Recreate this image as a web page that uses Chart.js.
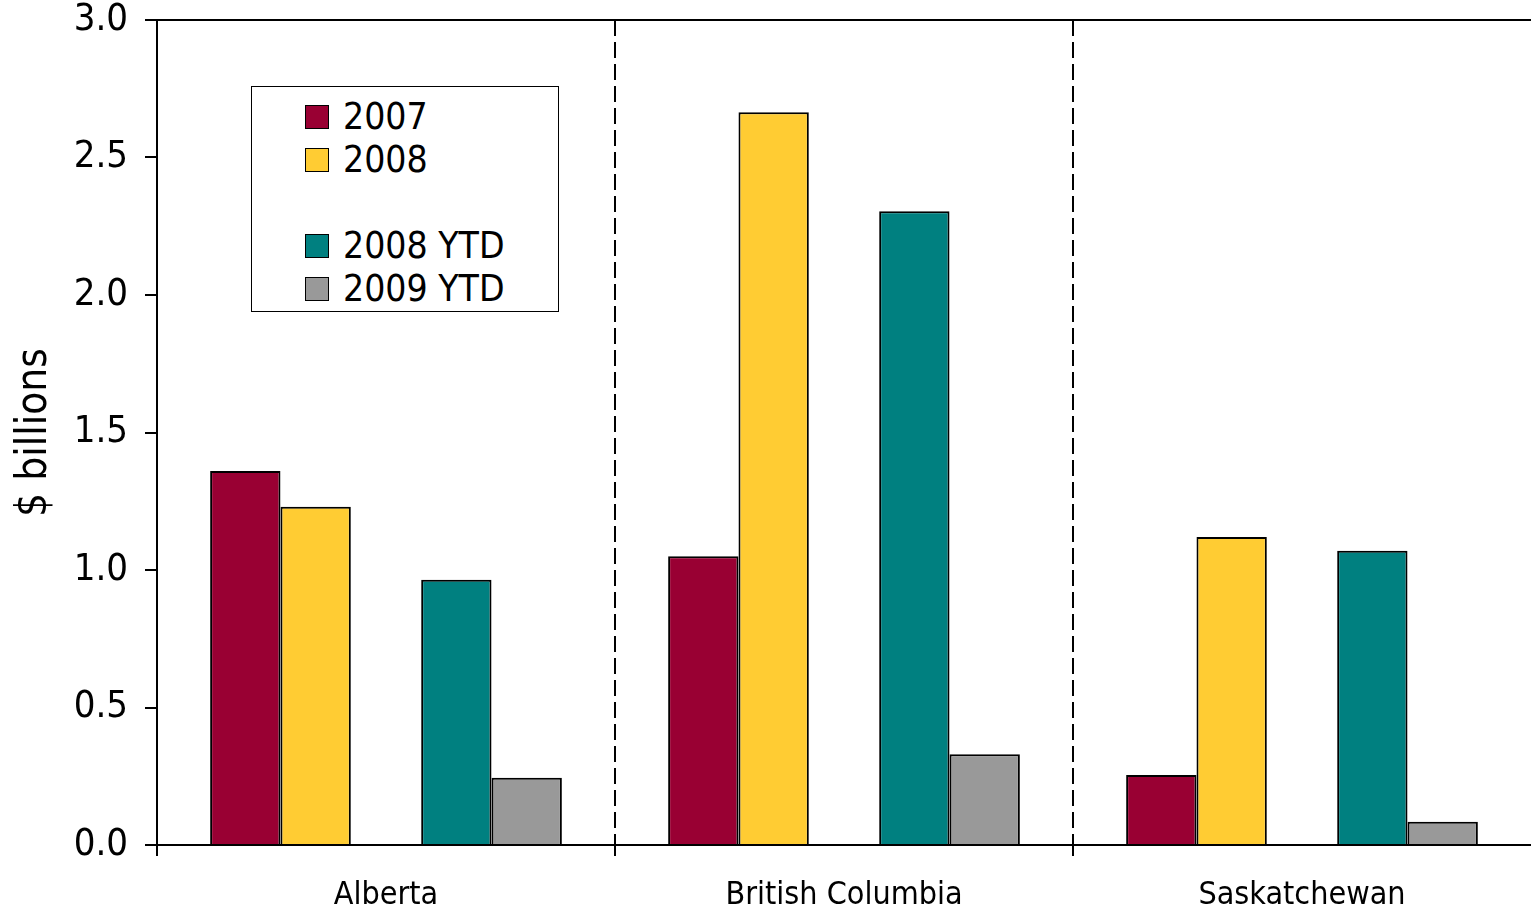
<!DOCTYPE html>
<html>
<head>
<meta charset="utf-8">
<script src="https://cdn.jsdelivr.net/npm/chart.js@4"></script>
<style>
  html, body { margin: 0; padding: 0; background: #fff; }
  #wrap { position: relative; width: 1531px; height: 910px; }
  #legendBox {
    position: absolute; left: 251px; top: 86px; width: 306px; height: 224px;
    border: 1.5px solid #000; background: #fff;
    font-family: 'DejaVu Sans Condensed', 'DejaVu Sans', sans-serif; font-size: 37px; color: #000;
  }
  .row { position: absolute; left: 53px; height: 43px; display: flex; align-items: center; }
  .sw { width: 22px; height: 22px; border: 1.5px solid #000; margin-right: 14px; }
</style>
</head>
<body>
<div id="wrap">
  <canvas id="chart" width="1531" height="910"></canvas>
  <div id="legendBox"></div>
</div>
<script>
const FONT = "'DejaVu Sans Condensed', 'DejaVu Sans', sans-serif";

const provinces = ['Alberta', 'British Columbia', 'Saskatchewan'];
const seriesNames = ['2007', '2008', '', '2008 YTD', '2009 YTD'];
const v2007 = [1.36, 1.05, 0.255];
const v2008 = [1.23, 2.665, 1.12];
const spacer = [null, null, null];   // empty column between the full-year and YTD bars
const v2008ytd = [0.965, 2.305, 1.07];
const v2009ytd = [0.245, 0.33, 0.085];
const yTicks = [0, 0.5, 1.0, 1.5, 2.0, 2.5, 3.0];

const colors = ['#990033', '#FFCC33', 'transparent', '#008080', '#999999'];
const values = [v2007, v2008, spacer, v2008ytd, v2009ytd];

const datasets = seriesNames.map((name, i) => ({
    label: name,
    data: values[i],
    backgroundColor: colors[i],
    borderColor: '#000',
    borderWidth: i === 2 ? 0 : 2,
    borderSkipped: 'bottom',
    barPercentage: 1.0,
    categoryPercentage: 0.768
}));

// legend drawn inside the plot, blank entry kept as an empty row
const legendBox = document.getElementById('legendBox');
seriesNames.forEach((name, i) => {
    const row = document.createElement('div');
    row.className = 'row';
    row.style.top = (8 + i * 43) + 'px';
    if (name) {
        row.innerHTML = '<div class="sw" style="background:' + colors[i] + '"></div><span>' + name + '</span>';
    }
    legendBox.appendChild(row);
});

// separators only between provinces, not on the outer edges
const inner = c => (c.index === undefined || c.index === 0) ? 'transparent' : '#000';

const ctx = document.getElementById('chart').getContext('2d');
const chart = new Chart(ctx, {
    type: 'bar',
    data: {
        labels: provinces,
        datasets: datasets
    },
    options: {
        responsive: false,
        animation: false,
        layout: { padding: 0 },
        plugins: {
            legend: { display: false },
            tooltip: { enabled: false }
        },
        scales: {
            x: {
                grid: {
                    offset: true,
                    drawOnChartArea: true,
                    color: inner,
                    lineWidth: 2,
                    tickColor: c => c.index === undefined ? 'transparent' : '#000',
                    tickLength: 11,
                    tickWidth: 2
                },
                border: { color: '#000', width: 2, dash: [16, 6] },
                ticks: {
                    color: '#000',
                    font: { family: FONT, size: 32 },
                    padding: 20,
                    maxRotation: 0
                },
                afterFit: s => { s.height = 65; }
            },
            y: {
                min: 0,
                max: 3,
                afterBuildTicks: s => { s.ticks = yTicks.map(v => ({ value: v })); },
                grid: {
                    drawOnChartArea: true,
                    color: c => (c.tick && c.tick.value === 3) ? '#000' : 'transparent',
                    lineWidth: 2,
                    tickColor: '#000',
                    tickLength: 12,
                    tickWidth: 2
                },
                border: { color: '#000', width: 2 },
                ticks: {
                    color: '#000',
                    font: { family: FONT, size: 38, lineHeight: 1.0 },
                    padding: 17,
                    callback: v => Number(v).toFixed(1)
                },
                title: {
                    display: true,
                    text: '$ billions',
                    color: '#000',
                    font: { family: FONT, size: 42 },
                    padding: { top: 10, bottom: 0 }
                },
                afterFit: s => {
                    s.width = 157;
                    s.paddingTop = 20;
                    s.paddingBottom = 0;
                }
            }
        }
    }
});
</script>
</body>
</html>
